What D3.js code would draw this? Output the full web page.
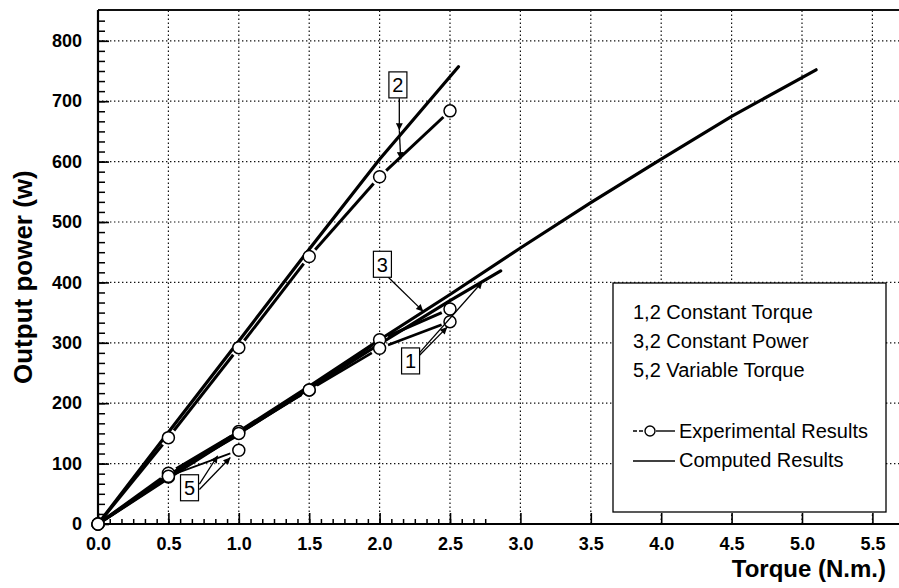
<!DOCTYPE html>
<html>
<head>
<meta charset="utf-8">
<script src="https://cdn.jsdelivr.net/npm/d3@7"></script>
<style>
  body { margin: 0; background: #fff; }
  svg { display: block; }
</style>
</head>
<body>
<svg id="chart" width="899" height="588"></svg>
<script>
// Axis ticks
const xTickValues = [0, 0.5, 1, 1.5, 2, 2.5, 3, 3.5, 4, 4.5, 5, 5.5];
const xTickLabels = ["0.0", "0.5", "1.0", "1.5", "2.0", "2.5", "3.0", "3.5", "4.0", "4.5", "5.0", "5.5"];
const yTickValues = [0, 100, 200, 300, 400, 500, 600, 700, 800];
const yTickLabels = ["0", "100", "200", "300", "400", "500", "600", "700", "800"];

// Curve 2 (constant torque, upper pair)
const torqueCalc2 = [0, 0.5, 1, 1.5, 2, 2.56];
const powerCalc2  = [0, 152, 303, 455, 604, 757];
const torqueExp2  = [0, 0.5, 1, 1.5, 2, 2.5];
const powerExp2   = [0, 143, 292, 443, 575, 684];

// Curve 3 (constant power)
const torqueCalc3 = [0, 0.5, 1, 1.5, 2, 2.5, 3, 3.5, 4, 4.5, 5.1];
const powerCalc3  = [0, 78, 153, 228, 305, 380, 457, 532, 604, 675, 752];
const torqueExp3  = [0, 0.5, 1, 1.5, 2, 2.5];
const powerExp3   = [0, 84, 153, 222, 305, 356];

// Curve 1 (constant torque, lower)
const torqueCalc1 = [0, 0.5, 1, 1.5, 2, 2.5, 2.86];
const powerCalc1  = [0, 76, 150, 224, 298, 370, 419];
const torqueExp1  = [0, 0.5, 1, 1.5, 2, 2.5];
const powerExp1   = [0, 78, 150, 222, 291, 335];

// Curve 5 (variable torque)
const torqueCalc5 = [0, 0.5, 1];
const powerCalc5  = [0, 81, 148];
const torqueExp5  = [0, 0.5, 1];
const powerExp5   = [0, 79, 122];

// Boxed curve numbers and their pointer arrows (torque, power)
const tagText   = ["2", "3", "1", "5"];
const tagTorque = [2.13, 2.02, 2.22, 0.65];
const tagPower  = [727, 430, 270, 60];
const arrowX1 = [2.14, 2.14, 2.06, 2.27, 2.27, 0.72, 0.72];
const arrowY1 = [705, 652, 409, 276, 280, 66, 57];
const arrowX2 = [2.14, 2.15, 2.31, 2.48, 2.73, 0.85, 0.94];
const arrowY2 = [652, 604, 352, 326, 401, 113, 110];

// Legend
const legendNotes = ["1,2 Constant Torque", "3,2 Constant Power", "5,2 Variable Torque"];
const legendKeys  = ["Experimental Results", "Computed Results"];

const svg = d3.select("#chart");
const W = 899, H = 588;
const plotLeft = 98, plotTop = 10, plotBottom = 524;

const x = d3.scaleLinear().domain([0, 5.7]).range([plotLeft, plotLeft + 5.7 * 140.8]);
const y = d3.scaleLinear().domain([0, 850]).range([plotBottom, plotBottom - 850 * 0.604]);

const pairs = (xs, ys) => xs.map((v, i) => [v, ys[i]]);

svg.append("rect").attr("width", W).attr("height", H).attr("fill", "#fff");

// Dotted grid
const grid = svg.append("g").attr("stroke", "#111").attr("stroke-width", 1.2)
  .attr("stroke-dasharray", "1.4,2.6");
grid.selectAll("line.v").data(xTickValues.filter(d => d > 0)).join("line")
  .attr("x1", d => x(d)).attr("x2", d => x(d))
  .attr("y1", y(0)).attr("y2", plotTop);
grid.selectAll("line.h").data(yTickValues.filter(d => d > 0)).join("line")
  .attr("x1", plotLeft).attr("x2", W)
  .attr("y1", d => y(d)).attr("y2", d => y(d));

// Top frame line
svg.append("line").attr("x1", plotLeft).attr("x2", W).attr("y1", plotTop).attr("y2", plotTop)
  .attr("stroke", "#111").attr("stroke-width", 2);

// Legend box (drawn under the curves, above the grid)
const lg = svg.append("g");
lg.append("rect").attr("x", 613).attr("y", 283).attr("width", 273).attr("height", 229)
  .attr("fill", "#fff").attr("stroke", "#000").attr("stroke-width", 1.3);

// Minor ticks
const minorX = d3.range(0, 34).map(i => i * 0.5 / 6);
const minorY = d3.range(0, 51).map(i => i * 100 / 6);

const xMinor = svg.append("g").attr("transform", `translate(0,${plotBottom})`)
  .call(d3.axisBottom(x).tickValues(minorX).tickSize(-5).tickFormat("").tickSizeOuter(0));
const yMinor = svg.append("g").attr("transform", `translate(${plotLeft},0)`)
  .call(d3.axisLeft(y).tickValues(minorY).tickSize(-7).tickFormat("").tickSizeOuter(0));
[xMinor, yMinor].forEach(g => {
  g.select(".domain").remove();
  g.selectAll(".tick line").attr("stroke", "#000").attr("stroke-width", 1.5);
});

// Major axes
const xAxis = svg.append("g").attr("transform", `translate(0,${plotBottom})`)
  .call(d3.axisBottom(x).tickValues(xTickValues).tickSize(-11).tickSizeOuter(0)
    .tickPadding(13).tickFormat((d, i) => xTickLabels[i]));
const yAxis = svg.append("g").attr("transform", `translate(${plotLeft},0)`)
  .call(d3.axisLeft(y).tickValues(yTickValues).tickSize(-11).tickSizeOuter(0)
    .tickPadding(16).tickFormat((d, i) => yTickLabels[i]));
[xAxis, yAxis].forEach(g => {
  g.select(".domain").attr("stroke", "#000").attr("stroke-width", 2.2);
  g.selectAll(".tick line").attr("stroke", "#000").attr("stroke-width", 1.6);
  g.selectAll(".tick text").attr("fill", "#000")
    .style("font-family", "'Liberation Sans', Arial, sans-serif")
    .style("font-weight", "bold").style("font-size", "18px");
});
yAxis.select(".domain").attr("d", `M0,${y(0)}V${plotTop}`);
xAxis.select(".domain").attr("d", `M${plotLeft},0H${W}`);

// Axis titles
svg.append("text").attr("x", 886).attr("y", 577).attr("text-anchor", "end")
  .style("font-family", "'Liberation Sans', Arial, sans-serif")
  .style("font-weight", "bold").style("font-size", "24px").text("Torque (N.m.)");
svg.append("text").attr("transform", "translate(32,384) rotate(-90)")
  .style("font-family", "'Liberation Sans', Arial, sans-serif")
  .style("font-weight", "bold").style("font-size", "26px").text("Output power (w)");

// Curves
const line = d3.line().x(d => x(d[0])).y(d => y(d[1]));
const computed = [
  pairs(torqueCalc2, powerCalc2),
  pairs(torqueCalc3, powerCalc3),
  pairs(torqueCalc1, powerCalc1),
  pairs(torqueCalc5, powerCalc5)
];
const experimental = [
  { pts: pairs(torqueExp2, powerExp2), w: 3 },
  { pts: pairs(torqueExp3, powerExp3), w: 3 },
  { pts: pairs(torqueExp1, powerExp1), w: 2.6 },
  { pts: pairs(torqueExp5, powerExp5), w: 1.8 }
];

const plot = svg.append("g");
plot.selectAll("path.calc").data(computed).join("path").attr("class", "calc")
  .attr("d", line).attr("fill", "none").attr("stroke", "#000")
  .attr("stroke-width", 3.2).attr("stroke-linecap", "round");

// Experimental segments stop short of each marker
const R = 6, gap = 3;
experimental.forEach(s => {
  for (let i = 0; i < s.pts.length - 1; i++) {
    const ax = x(s.pts[i][0]), ay = y(s.pts[i][1]);
    const bx = x(s.pts[i + 1][0]), by = y(s.pts[i + 1][1]);
    const len = Math.hypot(bx - ax, by - ay), ux = (bx - ax) / len, uy = (by - ay) / len;
    const cut = R + gap;
    plot.append("line")
      .attr("x1", ax + ux * cut).attr("y1", ay + uy * cut)
      .attr("x2", bx - ux * cut).attr("y2", by - uy * cut)
      .attr("stroke", "#000").attr("stroke-width", s.w);
  }
});
experimental.forEach(s => {
  plot.selectAll(null).data(s.pts).join("circle")
    .attr("cx", d => x(d[0])).attr("cy", d => y(d[1])).attr("r", R)
    .attr("fill", "#fff").attr("stroke", "#000").attr("stroke-width", 1.5);
});

// Pointer arrows and boxed numbers
svg.append("defs").append("marker").attr("id", "head")
  .attr("viewBox", "0 0 10 10").attr("refX", 10).attr("refY", 5)
  .attr("markerWidth", 10).attr("markerHeight", 7).attr("markerUnits", "userSpaceOnUse")
  .attr("orient", "auto")
  .append("path").attr("d", "M0,0L10,5L0,10Z").attr("fill", "#000");

const ann = svg.append("g");
arrowX1.forEach((v, i) => {
  ann.append("line")
    .attr("x1", x(v)).attr("y1", y(arrowY1[i]))
    .attr("x2", x(arrowX2[i])).attr("y2", y(arrowY2[i]))
    .attr("stroke", "#000").attr("stroke-width", 1.3).attr("marker-end", "url(#head)");
});
tagText.forEach((t, i) => {
  const cx = x(tagTorque[i]), cy = y(tagPower[i]);
  ann.append("rect").attr("x", cx - 9).attr("y", cy - 13).attr("width", 18).attr("height", 26)
    .attr("fill", "#fff").attr("stroke", "#000").attr("stroke-width", 1.2);
  ann.append("text").attr("x", cx).attr("y", cy + 7.5).attr("text-anchor", "middle")
    .style("font-family", "'Liberation Sans', Arial, sans-serif").style("font-size", "20px")
    .text(t);
});

// Legend contents
const lfont = "'Liberation Sans', Arial, sans-serif";
legendNotes.forEach((t, i) => {
  lg.append("text").attr("x", 633).attr("y", 319 + i * 29)
    .style("font-family", lfont).style("font-size", "20px").text(t);
});
legendKeys.forEach((t, i) => {
  lg.append("text").attr("x", 679).attr("y", 438 + i * 29)
    .style("font-family", lfont).style("font-size", "20px").text(t);
});
// Experimental key: short dashed lead, marker, solid tail
lg.append("line").attr("x1", 633).attr("x2", 644).attr("y1", 431).attr("y2", 431)
  .attr("stroke", "#000").attr("stroke-width", 1.4).attr("stroke-dasharray", "4,2");
lg.append("circle").attr("cx", 650).attr("cy", 431).attr("r", 5)
  .attr("fill", "#fff").attr("stroke", "#000").attr("stroke-width", 1.4);
lg.append("line").attr("x1", 656).attr("x2", 675).attr("y1", 431).attr("y2", 431)
  .attr("stroke", "#000").attr("stroke-width", 1.4);
lg.append("line").attr("x1", 633).attr("x2", 675).attr("y1", 461).attr("y2", 461)
  .attr("stroke", "#000").attr("stroke-width", 1.4);
</script>
</body>
</html>
